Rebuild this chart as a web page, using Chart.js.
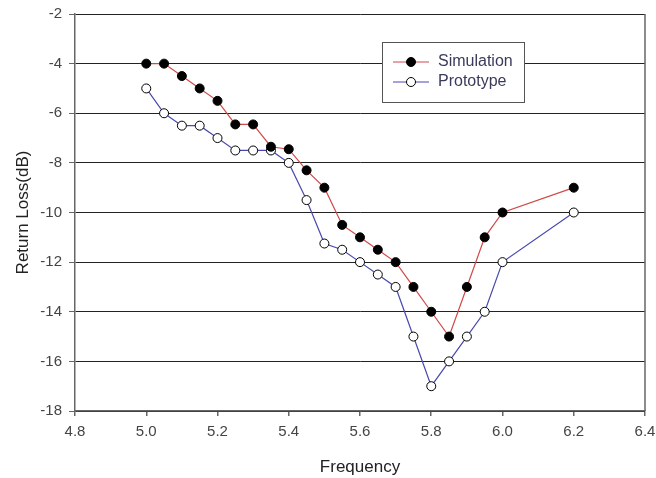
<!DOCTYPE html>
<html>
<head>
<meta charset="utf-8">
<script src="https://cdn.jsdelivr.net/npm/chart.js@4.4.1/dist/chart.umd.min.js"></script>
<style>
  html, body { margin: 0; padding: 0; background: #ffffff; }
  canvas { display: block; }
</style>
</head>
<body>
<canvas id="c" width="656" height="478"></canvas>
<script>
const frequency = [5.0, 5.05, 5.1, 5.15, 5.2, 5.25, 5.3, 5.35, 5.4, 5.45, 5.5, 5.55, 5.6, 5.65, 5.7, 5.75, 5.8, 5.85, 5.9, 5.95, 6.0, 6.2];
const simulation = [-4, -4, -4.5, -5, -5.5, -6.45, -6.45, -7.35, -7.45, -8.3, -9, -10.5, -11, -11.5, -12, -13, -14, -15, -13, -11, -10, -9];
const prototype = [-5, -6, -6.5, -6.5, -7, -7.5, -7.5, -7.5, -8, -9.5, -11.25, -11.5, -12, -12.5, -13, -15, -17, -16, -15, -14, -12, -10];
const xTicks = [4.8, 5.0, 5.2, 5.4, 5.6, 5.8, 6.0, 6.2, 6.4];
const yTicks = [-18, -16, -14, -12, -10, -8, -6, -4, -2];

const toPoints = (ys) => frequency.map((x, i) => ({ x: x, y: ys[i] }));

const FONT = "'Liberation Sans', Arial, sans-serif";

const framePlugin = {
  id: 'frame',
  afterDatasetsDraw(chart) {
    const { ctx, chartArea: a } = chart;
    ctx.save();
    ctx.strokeStyle = '#666666';
    ctx.lineWidth = 1.5;
    ctx.beginPath();
    ctx.moveTo(a.right, a.top);
    ctx.lineTo(a.right, a.bottom);
    ctx.stroke();
    ctx.restore();
  }
};

const legendPlugin = {
  id: 'boxLegend',
  afterDraw(chart) {
    const ctx = chart.ctx;
    const bx = 382, by = 42, bw = 142, bh = 60;
    ctx.save();
    ctx.fillStyle = '#ffffff';
    ctx.fillRect(bx, by, bw, bh);
    ctx.strokeStyle = '#555555';
    ctx.lineWidth = 1;
    ctx.strokeRect(bx + 0.5, by + 0.5, bw, bh);
    chart.data.datasets.forEach((ds, i) => {
      const cy = by + 20 + i * 20;
      ctx.strokeStyle = ds.borderColor;
      ctx.lineWidth = 1;
      ctx.beginPath();
      ctx.moveTo(393, cy);
      ctx.lineTo(429, cy);
      ctx.stroke();
      ctx.beginPath();
      ctx.arc(411, cy, ds.pointRadius, 0, Math.PI * 2);
      ctx.fillStyle = ds.pointBackgroundColor;
      ctx.fill();
      ctx.strokeStyle = ds.pointBorderColor;
      ctx.stroke();
      ctx.fillStyle = '#3a3a5a';
      ctx.font = '16px ' + FONT;
      ctx.textBaseline = 'middle';
      ctx.textAlign = 'left';
      ctx.fillText(ds.label, 438, cy);
    });
    ctx.restore();
  }
};

new Chart(document.getElementById('c'), {
  type: 'line',
  data: {
    datasets: [
      {
        label: 'Simulation',
        data: toPoints(simulation),
        borderColor: '#d04848',
        borderWidth: 1.2,
        pointRadius: 4.5,
        pointBackgroundColor: '#000000',
        pointBorderColor: '#000000',
        pointBorderWidth: 1,
        tension: 0
      },
      {
        label: 'Prototype',
        data: toPoints(prototype),
        borderColor: '#4848b0',
        borderWidth: 1.2,
        pointRadius: 4.5,
        pointBackgroundColor: '#ffffff',
        pointBorderColor: '#000000',
        pointBorderWidth: 1,
        tension: 0
      }
    ]
  },
  options: {
    responsive: false,
    animation: false,
    layout: { padding: { top: 14, right: 11, left: 0, bottom: 0 } },
    plugins: {
      legend: { display: false },
      tooltip: { enabled: false }
    },
    scales: {
      x: {
        type: 'linear',
        min: 4.8,
        max: 6.4,
        afterBuildTicks: (s) => { s.ticks = xTicks.map(v => ({ value: v })); },
        afterFit: (s) => { s.height = 67; s.paddingLeft = 0; s.paddingRight = 0; },
        ticks: {
          callback: (v) => Number(v).toFixed(1),
          font: { size: 15, family: FONT },
          color: '#444444',
          padding: 7,
          maxRotation: 0
        },
        grid: { drawOnChartArea: false, drawTicks: true, tickLength: 5, color: '#666666', lineWidth: 1.5 },
        border: { display: true, color: '#666666', width: 1.5 },
        title: {
          display: true,
          text: 'Frequency',
          font: { size: 17, family: FONT },
          color: '#222222',
          padding: { top: 0, bottom: 0 }
        }
      },
      y: {
        type: 'linear',
        min: -18,
        max: -2,
        afterBuildTicks: (s) => { s.ticks = yTicks.map(v => ({ value: v })); },
        afterFit: (s) => { s.width = 75; s.paddingTop = 0; s.paddingBottom = 0; },
        ticks: {
          font: { size: 15, family: FONT },
          color: '#444444',
          padding: 7
        },
        grid: { drawOnChartArea: true, drawTicks: true, tickLength: 6, color: '#222222', lineWidth: 1, tickColor: '#666666' },
        border: { display: true, color: '#666666', width: 1.5 },
        title: {
          display: true,
          text: 'Return Loss(dB)',
          font: { size: 17, family: FONT },
          color: '#222222',
          padding: { top: 13, bottom: 0 }
        }
      }
    }
  },
  plugins: [framePlugin, legendPlugin]
});
</script>
</body>
</html>
